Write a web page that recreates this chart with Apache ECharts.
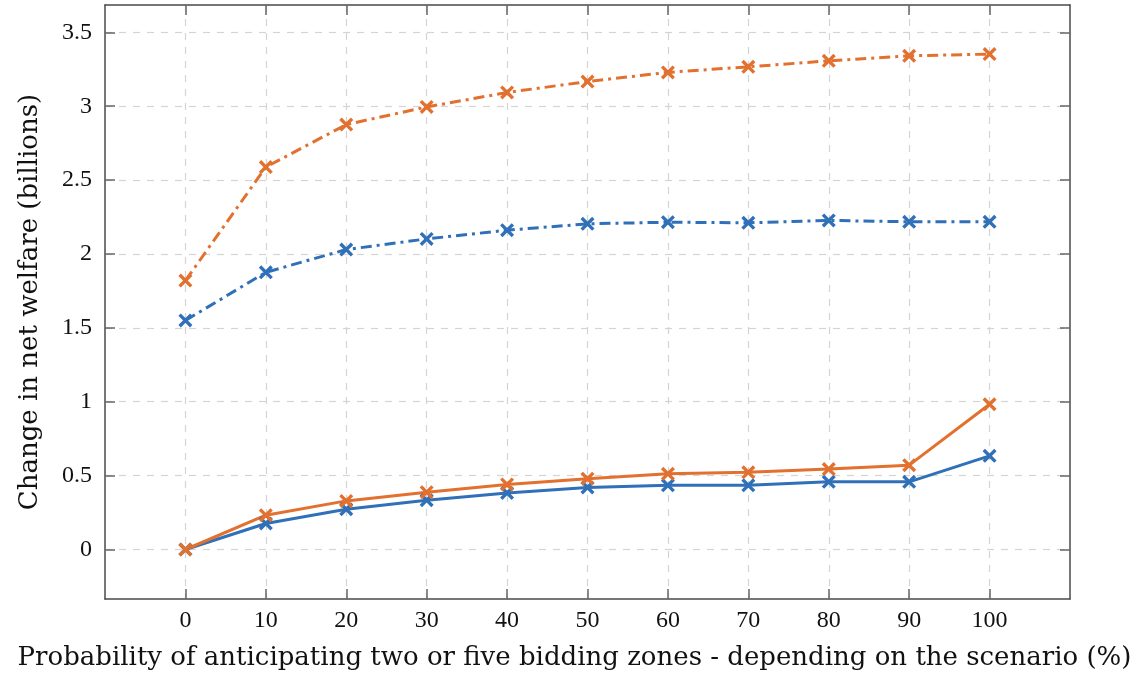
<!DOCTYPE html>
<html>
<head>
<meta charset="utf-8">
<script src="https://cdn.jsdelivr.net/npm/echarts@6/dist/echarts.min.js"></script>
<style>
html,body{margin:0;padding:0;background:#fff;}
#chart{width:1140px;height:676px;}
</style>
</head>
<body>
<div id="chart"></div>
<script>
const probabilities = [0, 10, 20, 30, 40, 50, 60, 70, 80, 90, 100];
const blueSolid = [0, 0.176, 0.273, 0.334, 0.383, 0.420, 0.434, 0.434, 0.458, 0.458, 0.634];
const orangeSolid = [0, 0.232, 0.329, 0.388, 0.440, 0.479, 0.512, 0.522, 0.544, 0.571, 0.983];
const blueDashDot = [1.550, 1.876, 2.030, 2.102, 2.161, 2.204, 2.215, 2.211, 2.227, 2.218, 2.218];
const orangeDashDot = [1.820, 2.588, 2.876, 2.995, 3.093, 3.167, 3.229, 3.267, 3.307, 3.341, 3.353];
const yTicks = [0, 0.5, 1, 1.5, 2, 2.5, 3, 3.5];
const xTicks = [0, 10, 20, 30, 40, 50, 60, 70, 80, 90, 100];

const BLUE = '#3070b8';
const ORANGE = '#e2702e';
const FONT = '"Liberation Serif", "DejaVu Serif", serif';
const TITLE_FONT = '"DejaVu Serif", serif';
const CROSS = 'path://M0,1.7L1.7,0L10,8.3L8.3,10Z M8.3,0L10,1.7L1.7,10L0,8.3Z';

function pairs(ys) { return probabilities.map((x, i) => [x, ys[i]]); }

const axisLineStyle = { color: '#4a4a4a', width: 1.5 };
function tickStyle(vals) {
  return { show: true, inside: true, length: 10, customValues: vals, lineStyle: { color: '#666', width: 1.5 } };
}
function gridLine(vals) {
  return { show: true, customValues: vals, lineStyle: { color: '#d4d4d4', width: 1.2, type: [7, 7] } };
}

function mk(name, data, color, dashed) {
  return {
    name: name, type: 'line', data: pairs(data),
    symbol: CROSS, symbolSize: 14, showSymbol: true,
    itemStyle: { color: color },
    lineStyle: { color: color, width: 3, type: dashed ? [11, 5, 3, 5] : 'solid', cap: 'butt' },
    emphasis: { disabled: true }, animation: false, z: 3
  };
}

const chart = echarts.init(document.getElementById('chart'), null, { renderer: 'canvas' });
chart.setOption({
  backgroundColor: '#fff',
  animation: false,
  grid: { left: 105, right: 70, top: 5, bottom: 77, containLabel: false },
  xAxis: [{
    type: 'value', min: -10, max: 110,
    axisLine: { show: true, onZero: false, lineStyle: axisLineStyle },
    axisTick: tickStyle(xTicks),
    splitLine: gridLine(xTicks),
    axisLabel: { customValues: xTicks, color: '#111', fontFamily: FONT, fontSize: 24, margin: 10 },
    name: 'Probability of anticipating two or five bidding zones - depending on the scenario (%)',
    nameLocation: 'middle', nameGap: 46,
    nameTextStyle: { color: '#111', fontFamily: TITLE_FONT, fontSize: 26, padding: [0, 26, 0, 0] }
  }, {
    type: 'value', position: 'top', min: -10, max: 110,
    axisLine: { show: true, onZero: false, lineStyle: axisLineStyle },
    axisTick: tickStyle(xTicks), axisLabel: { show: false }, splitLine: { show: false }
  }],
  yAxis: [{
    type: 'value', min: -0.335, max: 3.685,
    axisLine: { show: true, onZero: false, lineStyle: axisLineStyle },
    axisTick: tickStyle(yTicks),
    splitLine: gridLine(yTicks),
    axisLabel: { customValues: yTicks, color: '#111', fontFamily: FONT, fontSize: 24, margin: 13 },
    name: 'Change in net welfare (billions)',
    nameLocation: 'middle', nameGap: 62,
    nameTextStyle: { color: '#111', fontFamily: TITLE_FONT, fontSize: 26 }
  }, {
    type: 'value', position: 'right', min: -0.335, max: 3.685,
    axisLine: { show: true, onZero: false, lineStyle: axisLineStyle },
    axisTick: tickStyle(yTicks), axisLabel: { show: false }, splitLine: { show: false }
  }],
  series: [
    mk('blue solid', blueSolid, BLUE, false),
    mk('orange solid', orangeSolid, ORANGE, false),
    mk('blue dash-dot', blueDashDot, BLUE, true),
    mk('orange dash-dot', orangeDashDot, ORANGE, true)
  ]
});
</script>
</body>
</html>
